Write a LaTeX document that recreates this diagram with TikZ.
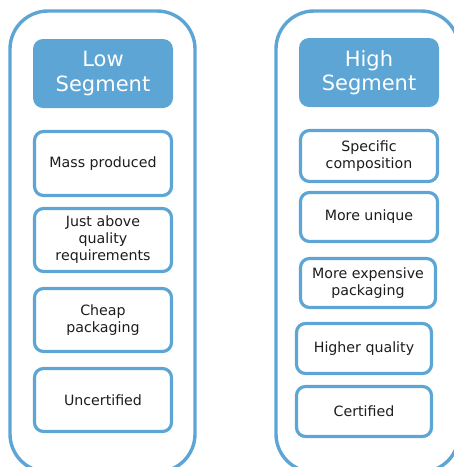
\documentclass[tikz,border=0pt]{standalone}
\usepackage{fontspec}
\setmainfont{DejaVu Sans}
\definecolor{segblue}{RGB}{93,165,213}
\definecolor{segtext}{RGB}{28,28,28}
\tikzset{
	segframe/.style={draw=segblue, line width=3.4pt, rounded corners=38pt},
	seghead/.style={fill=segblue, rounded corners=10pt, text=white, align=center,
		minimum width=140pt, font=\fontsize{21}{24.5}\selectfont, inner sep=0pt},
	segitem/.style={draw=segblue, line width=3.2pt, rounded corners=9pt, text=segtext,
		align=center, minimum width=137pt, font=\fontsize{14.2}{17}\selectfont, inner sep=0pt}
}
\begin{document}
\begin{tikzpicture}[x=1pt, y=-1pt, line join=round]
				\useasboundingbox (0,0) rectangle (454,467);
				% outer frames
				\draw[segframe] (10,11) rectangle (195,472);
				\draw[segframe] (276,11) rectangle (459,472);
				% low segment
				\node[seghead, minimum height=69pt] (lowhead) at (103,73.5) {Low\\Segment};
				\node[segitem, minimum height=64pt] (mass) at (103,163.5) {Mass produced};
				\node[segitem, minimum height=63pt] (above) at (103,240) {Just above\\quality\\requirements};
				\node[segitem, minimum height=63pt] (cheap) at (103,320) {Cheap\\packaging};
				\node[segitem, minimum height=63pt] (uncert) at (103,400) {Uncertified};
				% high segment
				\node[seghead, minimum height=69pt] (highhead) at (369,72.5) {High\\Segment};
				\node[segitem, minimum height=51pt] (spec) at (369,156) {Specific\\composition};
				\node[segitem, minimum height=49pt] (unique) at (369,217) {More unique};
				\node[segitem, minimum height=49pt, minimum width=135pt] (expens) at (368,283) {More expensive\\packaging};
				\node[segitem, minimum height=50pt, minimum width=135pt] (higher) at (364,348.5) {Higher quality};
				\node[segitem, minimum height=50pt, minimum width=135pt] (cert) at (364,411.5) {Certified};
			\end{tikzpicture}
\end{document}
